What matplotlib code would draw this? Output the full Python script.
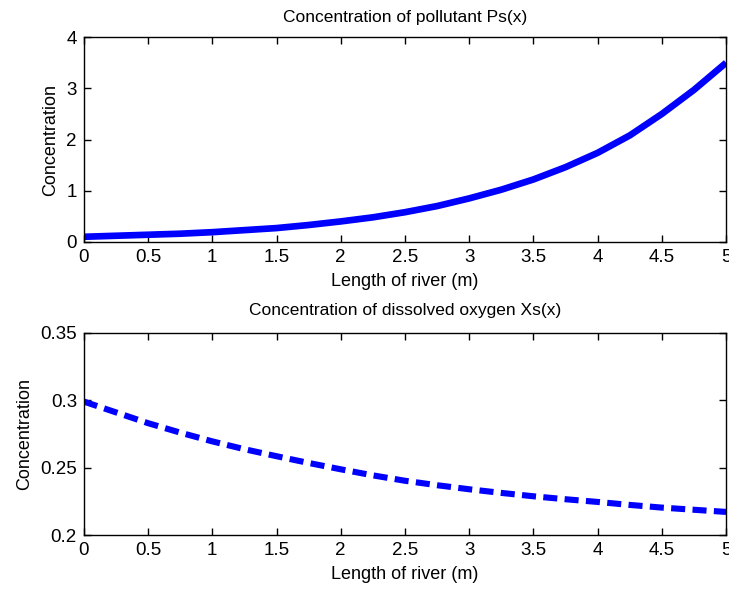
import matplotlib
matplotlib.use('Agg')
import matplotlib.pyplot as plt
import numpy as np

# values
x_len = [0, 0.25, 0.5, 0.75, 1, 1.25, 1.5, 1.75, 2, 2.25, 2.5, 2.75, 3,
         3.25, 3.5, 3.75, 4, 4.25, 4.5, 4.75, 5]
ps = [0.10, 0.12, 0.14, 0.16, 0.19, 0.23, 0.27, 0.33, 0.40, 0.48, 0.58, 0.70,
      0.85, 1.02, 1.22, 1.46, 1.74, 2.08, 2.50, 2.97, 3.50]
xs = [0.299, 0.291, 0.283, 0.276, 0.2695, 0.2637, 0.2585, 0.2535, 0.2488,
      0.2443, 0.2403, 0.2370, 0.2340, 0.2313, 0.2288, 0.2266, 0.2246,
      0.2224, 0.2204, 0.2188, 0.2172]
x_ticks = [0, 0.5, 1, 1.5, 2, 2.5, 3, 3.5, 4, 4.5, 5]
x_ticklabels = ['0', '0.5', '1', '1.5', '2', '2.5', '3', '3.5', '4', '4.5', '5']

plt.rcParams['font.family'] = ['Liberation Sans', 'DejaVu Sans']

fig = plt.figure(figsize=(7.29, 5.9), dpi=100)
ax1 = fig.add_axes([0.115, 0.59, 0.881, 0.347])
ax2 = fig.add_axes([0.115, 0.093, 0.881, 0.343])

ax1.plot(x_len, ps, color='#0000ff', linewidth=4.8, solid_capstyle='butt')
ax1.set_xlim(0, 5)
ax1.set_ylim(0, 4)
ax1.set_yticks([0, 1, 2, 3, 4])
ax1.set_title('Concentration of pollutant Ps(x)', fontsize=12.5, pad=11)

ax2.plot(x_len, xs, color='#0000ff', linewidth=4.4, linestyle=(0, (2.3, 1.2)),
         dash_capstyle='butt')
ax2.set_xlim(0, 5)
ax2.set_ylim(0.2, 0.35)
ax2.set_yticks([0.2, 0.25, 0.3, 0.35])
ax2.set_yticklabels(['0.2', '0.25', '0.3', '0.35'])
ax2.set_title('Concentration of dissolved oxygen Xs(x)', fontsize=12.5, pad=13)

for ax in (ax1, ax2):
    ax.set_xticks(x_ticks)
    ax.set_xticklabels(x_ticklabels)
    ax.set_xlabel('Length of river (m)', fontsize=13, labelpad=5)
    ax.set_ylabel('Concentration', fontsize=13, labelpad=5)
    ax.tick_params(direction='in', top=True, right=True, length=5,
                   labelsize=13.5, width=1, pad=5)
    for s in ax.spines.values():
        s.set_linewidth(1)

plt.savefig('out.png', dpi=100)
